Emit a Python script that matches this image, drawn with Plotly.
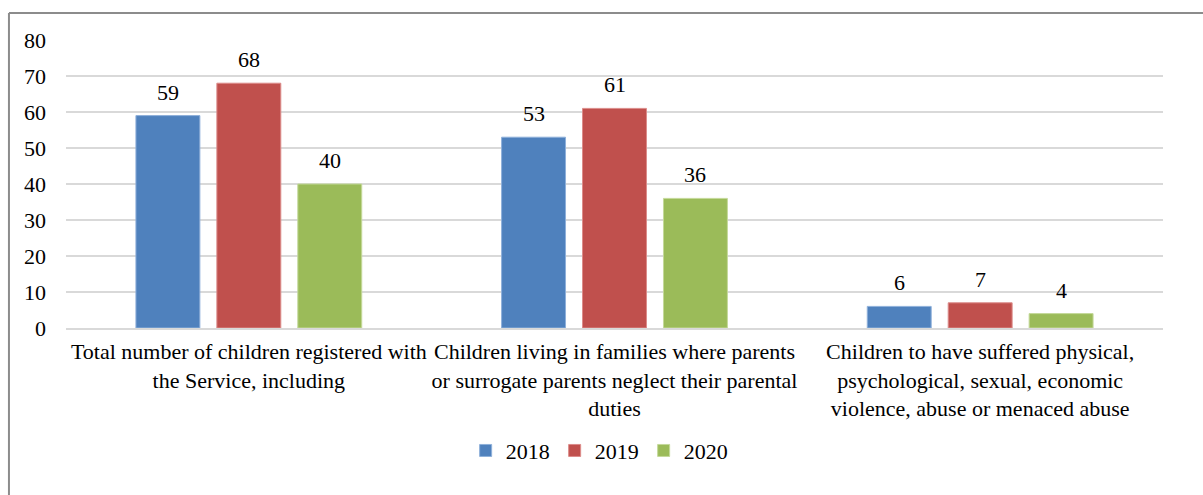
import plotly.graph_objects as go

categories = [
    "Total number of children registered with<br>the Service, including",
    "Children living in families where parents<br>or surrogate parents neglect their parental<br>duties",
    "Children to have suffered physical,<br>psychological, sexual, economic<br>violence, abuse or menaced abuse",
]
years = ["2018", "2019", "2020"]
values_2018 = [59, 53, 6]
values_2019 = [68, 61, 7]
values_2020 = [40, 36, 4]
y_ticks = [0, 10, 20, 30, 40, 50, 60, 70, 80]

series = [values_2018, values_2019, values_2020]
fills = ["#4F81BD", "#C0504D", "#9BBB59"]
edges = ["#8FB0DA", "#DC8C8A", "#C4D99A"]

FONT = "Liberation Serif, Times New Roman, serif"
FS = 22
PLOT_W = 1203 - 66 - 40
BARGAP = 0.336
SLOT = PLOT_W / len(categories) * (1 - BARGAP) / len(series)

fig = go.Figure()
for name, vals, fill, edge in zip(years, series, fills, edges):
    fig.add_trace(go.Bar(
        name=name,
        x=categories,
        y=vals,
        marker=dict(color=fill, line=dict(color=edge, width=1)),
    ))

# value labels sit a little above each bar
annotations = []
for i, vals in enumerate(series):
    for cat, v in zip(categories, vals):
        annotations.append(dict(
            x=cat, y=v, xref="x", yref="y",
            text=str(v), showarrow=False,
            xanchor="center", yanchor="bottom",
            xshift=(i - 1) * SLOT, yshift=9,
            font=dict(family=FONT, size=FS, color="#000000"),
        ))

fig.update_layout(
    width=1203,
    height=495,
    margin=dict(l=66, r=40, t=40, b=167, autoexpand=False),
    paper_bgcolor="#FFFFFF",
    plot_bgcolor="#FFFFFF",
    barmode="group",
    bargap=BARGAP,
    bargroupgap=0.21,
    font=dict(family=FONT, size=FS, color="#000000"),
    annotations=annotations,
    legend=dict(
        orientation="h",
        x=0.486,
        xanchor="center",
        y=-0.353,
        yanchor="top",
        font=dict(family=FONT, size=FS),
        itemwidth=30,
        tracegroupgap=0,
    ),
    xaxis=dict(
        showgrid=False,
        showline=True,
        linecolor="#D9D9D9",
        linewidth=1.5,
        tickfont=dict(family=FONT, size=FS),
        tickangle=0,
        automargin=False,
        ticks="",
        ticklabelstandoff=3,
    ),
    yaxis=dict(
        range=[0, 80],
        tickvals=y_ticks,
        showgrid=True,
        gridcolor="#D9D9D9",
        gridwidth=1.5,
        zeroline=False,
        showline=False,
        automargin=False,
        tickfont=dict(family=FONT, size=FS),
        ticklabelstandoff=19,
    ),
    shapes=[
        dict(type="line", xref="paper", yref="paper",
             x0=-0.052, x1=1.1, y0=1.094, y1=1.094,
             line=dict(color="#8C8C8C", width=2)),
        dict(type="line", xref="paper", yref="paper",
             x0=-0.052, x1=-0.052, y0=1.094, y1=-0.7,
             line=dict(color="#8C8C8C", width=2)),
    ],
)

fig.write_html("out.html")
